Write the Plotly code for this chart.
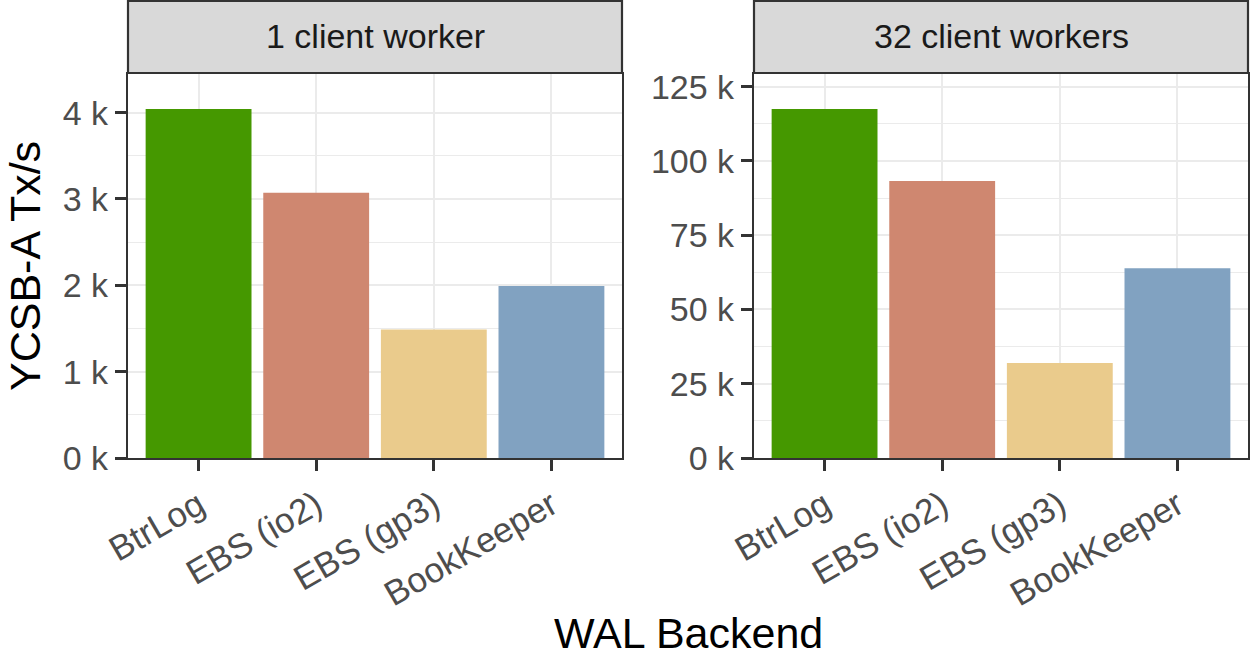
import plotly.graph_objects as go

# ---- data ----
categories = ["BtrLog", "EBS (io2)", "EBS (gp3)", "BookKeeper"]
bar_colors = ["#459800", "#CF8770", "#EACB8C", "#81A2C1"]
facet_titles = ["1 client worker", "32 client workers"]
tx_1_worker = [4043, 3072, 1489, 1992]
tx_32_workers = [117500, 93200, 32000, 63900]
yticks_1 = [0, 1000, 2000, 3000, 4000]
yticks_32 = [0, 25000, 50000, 75000, 100000, 125000]
x_title = "WAL Backend"
y_title = "YCSB-A Tx/s"

W, H = 1250, 658
FONT = "Liberation Sans, Arial, Helvetica, sans-serif"


def fx(px):
    return px / W


def fy(py):
    return 1 - py / H


def k_labels(vals):
    return [f"{int(v / 1000)} k" for v in vals]


def midpoints(vals):
    return [(a + b) / 2 for a, b in zip(vals[:-1], vals[1:])] + [vals[-1] + (vals[1] - vals[0]) / 2]


panels = [
    dict(vals=tx_1_worker, ticks=yticks_1, x0=128, x1=622, ymax=max(tx_1_worker) * 1.1),
    dict(vals=tx_32_workers, ticks=yticks_32, x0=754, x1=1248, ymax=max(tx_32_workers) * 1.1),
]
PANEL_TOP, PANEL_BOTTOM = 74, 458
STRIP_TOP = 1

fig = go.Figure()
layout = dict(
    width=W,
    height=H,
    margin=dict(l=0, r=0, t=0, b=0, autoexpand=False),
    paper_bgcolor="white",
    plot_bgcolor="white",
    showlegend=False,
    bargap=0.1,
    font=dict(family=FONT),
    shapes=[],
    annotations=[],
)

for i, p in enumerate(panels):
    suffix = "" if i == 0 else str(i + 1)
    fig.add_trace(
        go.Bar(
            x=categories,
            y=p["vals"],
            marker=dict(color=bar_colors, line=dict(width=0)),
            width=0.9,
            xaxis="x" + suffix,
            yaxis="y" + suffix,
        )
    )
    layout["xaxis" + suffix] = dict(
        domain=[fx(p["x0"]), fx(p["x1"])],
        anchor="y" + suffix,
        type="category",
        range=[-0.6, len(categories) - 0.4],
        automargin=False,
        showgrid=True,
        gridcolor="#EBEBEB",
        gridwidth=2.2,
        showline=True,
        mirror=True,
        linecolor="#333333",
        linewidth=2.2,
        ticks="outside",
        ticklen=11,
        tickwidth=2.5,
        tickcolor="#333333",
        tickangle=-30,
        tickfont=dict(size=35, color="#4D4D4D", family=FONT),
        zeroline=False,
        fixedrange=True,
    )
    layout["yaxis" + suffix] = dict(
        domain=[fy(PANEL_BOTTOM), fy(PANEL_TOP)],
        anchor="x" + suffix,
        range=[0, p["ymax"]],
        automargin=False,
        tickmode="array",
        tickvals=p["ticks"],
        ticktext=k_labels(p["ticks"]),
        showgrid=True,
        gridcolor="#EBEBEB",
        gridwidth=2.2,
        minor=dict(
            tickmode="array",
            tickvals=midpoints(p["ticks"]),
            showgrid=True,
            gridcolor="#EBEBEB",
            gridwidth=1.2,
            ticks="",
        ),
        showline=True,
        mirror=True,
        linecolor="#333333",
        linewidth=2.2,
        ticks="outside",
        ticklen=11,
        tickwidth=2.5,
        tickcolor="#333333",
        tickfont=dict(size=34, color="#4D4D4D", family=FONT),
        zeroline=False,
        fixedrange=True,
    )
    # facet strip
    layout["shapes"].append(
        dict(
            type="rect",
            xref="paper",
            yref="paper",
            x0=fx(p["x0"]),
            x1=fx(p["x1"]),
            y0=fy(PANEL_TOP - 1),
            y1=fy(STRIP_TOP),
            fillcolor="#D9D9D9",
            line=dict(color="#333333", width=2.2),
            layer="above",
        )
    )
    layout["annotations"].append(
        dict(
            text=facet_titles[i],
            xref="paper",
            yref="paper",
            x=fx((p["x0"] + p["x1"]) / 2),
            y=fy(36),
            xanchor="center",
            yanchor="middle",
            showarrow=False,
            font=dict(size=34, color="#1A1A1A", family=FONT),
        )
    )

layout["annotations"].append(
    dict(
        text=y_title,
        xref="paper",
        yref="paper",
        x=0,
        y=fy((PANEL_TOP + PANEL_BOTTOM) / 2),
        xanchor="left",
        yanchor="middle",
        textangle=-90,
        showarrow=False,
        borderpad=0,
        font=dict(size=43, color="black", family=FONT),
    )
)
layout["annotations"].append(
    dict(
        text=x_title,
        xref="paper",
        yref="paper",
        x=fx((panels[0]["x0"] + panels[1]["x1"]) / 2),
        y=0,
        xanchor="center",
        yanchor="bottom",
        showarrow=False,
        borderpad=0,
        font=dict(size=43, color="black", family=FONT),
    )
)

fig.update_layout(**layout)
fig.write_html("out.html")
